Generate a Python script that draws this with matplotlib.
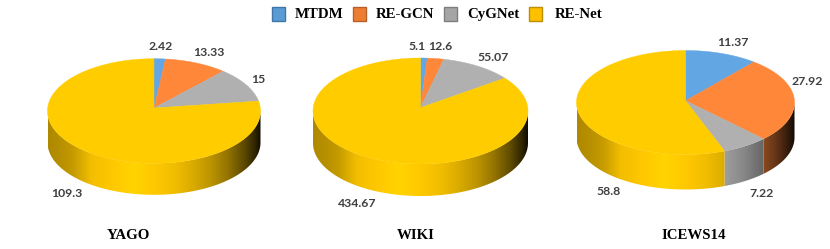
import numpy as np
import matplotlib
matplotlib.use("Agg")
import matplotlib.pyplot as plt
from matplotlib.colors import to_rgb
from matplotlib.patches import Polygon, Rectangle

methods = ["MTDM", "RE-GCN", "CyGNet", "RE-Net"]
yago = [2.42, 13.33, 15, 109.3]
wiki = [5.1, 12.6, 55.07, 434.67]
icews = [11.37, 27.92, 7.22, 58.8]
titles = ["YAGO", "WIKI", "ICEWS14"]
top_colors = ["#62a6e4", "#ff873a", "#b0b0b0", "#ffcc00"]
side_colors = ["#62a6e4", "#ff873a", "#b8b8b8", "#ffc800"]
legend_edges = ["#3f76a6", "#b9602a", "#7e7e7e", "#b89000"]
legend_fills = ["#5b9bd5", "#ed7d31", "#a5a5a5", "#ffc000"]

SERIF = "Liberation Serif"
LABEL = "Lato"
LABEL_C = "#404040"

fig = plt.figure(figsize=(8.30, 2.49), dpi=100)
ax = fig.add_axes([0, 0, 1, 1])
ax.set_xlim(0, 830)
ax.set_ylim(249, 0)
ax.axis("off")

sx = [0, .06, .12, .2, .3, .4, .5, .6, .68, .76, .84, .92, .97, 1]
sy = [.68, .72, .78, .95, 1.0, 1.06, 1.0, .94, .85, .74, .58, .36, .18, .04]


def draw_pie(vals, cx, ecy, vy, a, b, depth):
    vals = np.array(vals, float)
    edges = np.concatenate([[0], np.cumsum(vals)]) / vals.sum() * 2 * np.pi
    grid = np.linspace(0, 1, 400)
    shade = np.interp(grid, sx, sy)
    for i, col in enumerate(side_colors):
        lo = max(edges[i], np.pi / 2)
        hi = min(edges[i + 1], 3 * np.pi / 2)
        if hi <= lo:
            continue
        th = np.linspace(lo, hi, 200)
        xs = cx + a * np.sin(th)
        ys = ecy - b * np.cos(th)
        pts = np.c_[np.r_[xs, xs[::-1]], np.r_[ys, ys[::-1] + depth]]
        img = np.clip(np.outer(shade, to_rgb(col)), 0, 1)[None, :, :]
        im = ax.imshow(img, extent=(cx - a, cx + a, ecy + b + depth + 2, ecy - b - 2),
                       aspect="auto", interpolation="bilinear", zorder=2)
        im.set_clip_path(Polygon(pts, transform=ax.transData))
    for i, col in enumerate(top_colors):
        th = np.linspace(edges[i], edges[i + 1], 200)
        xs = np.r_[cx, cx + a * np.sin(th)]
        ys = np.r_[vy, ecy - b * np.cos(th)]
        ax.fill(xs, ys, facecolor=col, edgecolor=col, linewidth=0.3, zorder=3)


def labels(vals, positions):
    for v, (x, y) in zip(vals, positions):
        ax.text(x, y, f"{v:g}", ha="center", va="center", family=LABEL,
                fontweight="bold", fontsize=8.8, color=LABEL_C, zorder=5)


draw_pie(yago, 154, 111, 108, 106.5, 52.3, 31.5)
draw_pie(wiki, 420.5, 111, 107.7, 107.5, 53, 32)
draw_pie(icews, 685.5, 102.5, 100.7, 109, 52, 35)
ax.set_xlim(0, 830)
ax.set_ylim(249, 0)

labels(yago, [(161, 46.5), (209, 52.5), (258, 79), (66.5, 193.5)])
labels(wiki, [(417, 46), (440, 46), (493, 57), (357, 203.5)])
labels(icews, [(733, 42), (807, 81), (761, 193), (609, 191)])

for t, x in zip(titles, [128.5, 415.5, 693.5]):
    ax.text(x, 235, t, ha="center", va="center", family=SERIF, fontweight="bold",
            fontsize=10.7, color="black")

for m, bx, tx, fc, ec in zip(methods, [272, 353, 444, 529], [295, 376, 467, 555],
                             legend_fills, legend_edges):
    ax.add_patch(Rectangle((bx, 7), 13, 14, facecolor=fc, edgecolor=ec, linewidth=1))
    ax.text(tx, 14.2, m, ha="left", va="center", family=SERIF, fontweight="bold",
            fontsize=10.7, color="black")

fig.savefig("out.png", dpi=100)
